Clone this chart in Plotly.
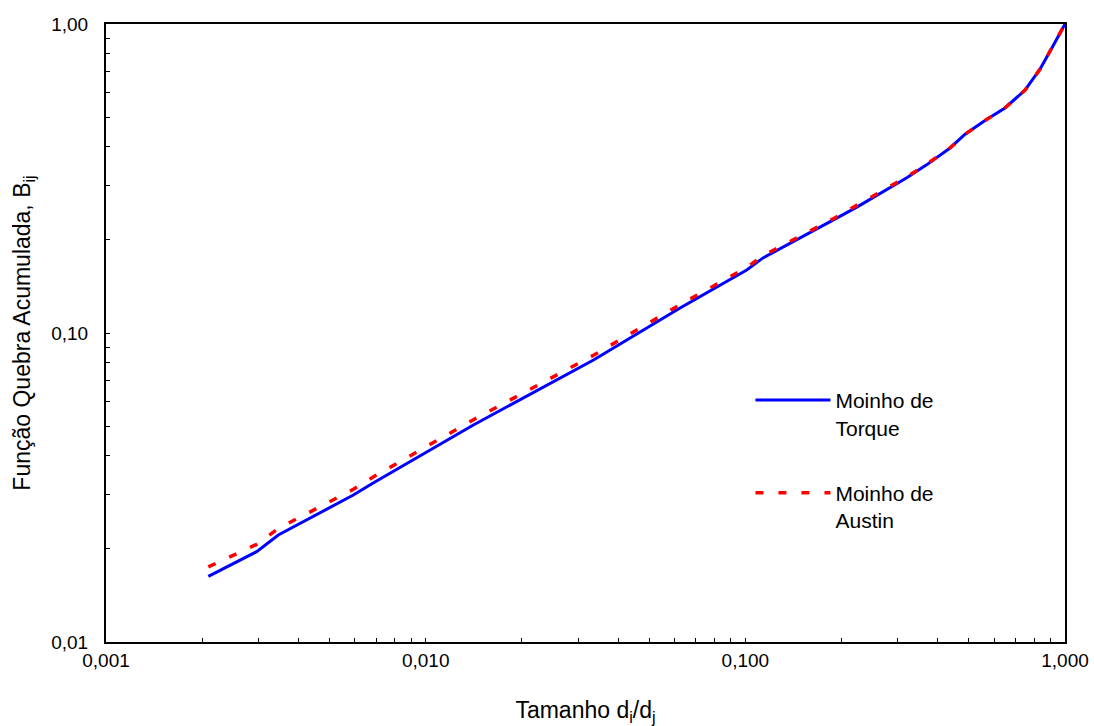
import plotly.graph_objects as go

# Relative particle size d_i/d_j
size_ratio = [0.00209, 0.00296, 0.00346, 0.00594, 0.00685, 0.0128, 0.0141, 0.0335,
              0.0625, 0.101, 0.1136, 0.188, 0.224, 0.320, 0.369, 0.437, 0.487,
              0.562, 0.649, 0.750, 0.835, 0.909, 1.0]

# Cumulative breakage function B_ij
b_torque = [0.0163, 0.0196, 0.0222, 0.0299, 0.0327, 0.0478, 0.0504, 0.0818,
            0.1205, 0.160, 0.175, 0.232, 0.256, 0.318, 0.350, 0.397, 0.440,
            0.487, 0.535, 0.611, 0.714, 0.834, 1.0]
b_austin = [0.0175, 0.0207, 0.0233, 0.0312, 0.0342, 0.0497, 0.0524, 0.0847,
            0.1235, 0.163, 0.178, 0.234, 0.259, 0.320, 0.352, 0.397, 0.440,
            0.487, 0.535, 0.611, 0.714, 0.834, 1.0]

x_major = [0.001, 0.01, 0.1, 1.0]
x_major_text = ["0,001", "0,010", "0,100", "1,000"]
y_major = [0.01, 0.1, 1.0]
y_major_text = ["0,01", "0,10", "1,00"]


def log_ticks(majors, labels):
    vals, text = [], []
    for m, lab in zip(majors, labels):
        vals.append(m)
        text.append(lab)
        if m != majors[-1]:
            for k in range(2, 10):
                vals.append(m * k)
                text.append("")
    return vals, text


xt_vals, xt_text = log_ticks(x_major, x_major_text)
yt_vals, yt_text = log_ticks(y_major, y_major_text)

FONT = "Arial, Liberation Sans, sans-serif"

fig = go.Figure()
fig.add_trace(go.Scatter(
    x=size_ratio, y=b_torque, mode="lines",
    name="Moinho de<br>Torque", legendgroup="a",
    line=dict(color="#0000ff", width=3),
))
fig.add_trace(go.Scatter(
    x=size_ratio, y=b_austin, mode="lines",
    name="Moinho de<br>Austin", legendgroup="b",
    line=dict(color="#ff0000", width=3.5, dash="8px,15px"),
))

fig.update_layout(
    width=1094, height=726,
    margin=dict(l=106, r=29, t=24, b=84),
    paper_bgcolor="white", plot_bgcolor="white",
    font=dict(family=FONT, size=19, color="black"),
    showlegend=True,
    legend=dict(
        x=0.672, y=0.424, xanchor="left", yanchor="top",
        bgcolor="rgba(0,0,0,0)", valign="top",
        tracegroupgap=35, itemwidth=75,
        font=dict(size=21),
    ),
    xaxis=dict(
        type="log", range=[-3, 0], automargin=False,
        tickvals=xt_vals, ticktext=xt_text,
        ticks="inside", ticklen=4, tickwidth=1, tickcolor="black",
        showline=True, linecolor="black", linewidth=2, mirror=True,
        showgrid=False, zeroline=False,
        title=dict(text="Tamanho d<sub>i</sub>/d<sub>j</sub>", standoff=35),
    ),
    yaxis=dict(
        type="log", range=[-2, 0], automargin=False,
        tickvals=yt_vals, ticktext=yt_text,
        ticks="inside", ticklen=4, tickwidth=1, tickcolor="black",
        showline=True, linecolor="black", linewidth=2, mirror=True,
        showgrid=False, zeroline=False,
        ticklabelstandoff=12,
        title=dict(text="Função Quebra Acumulada, B<sub>ij</sub>", standoff=14),
    ),
)

fig.write_html("out.html")
